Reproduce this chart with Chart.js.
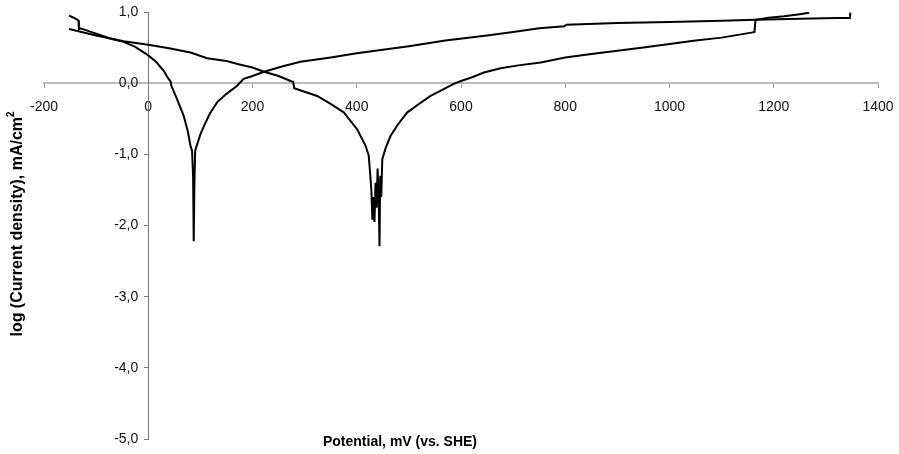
<!DOCTYPE html>
<html>
<head>
<meta charset="utf-8">
<script src="https://cdn.jsdelivr.net/npm/chart.js@4"></script>
<style>
  html, body { margin: 0; padding: 0; background: #fff; }
  #wrap { width: 899px; height: 454px; }
</style>
</head>
<body>
<div id="wrap"><canvas id="c" width="899" height="454"></canvas></div>
<script>
// Potential (mV vs. SHE) and log(current density)
const xTickValues = [-200, 0, 200, 400, 600, 800, 1000, 1200, 1400];
const yTickValues = [-5, -4, -3, -2, -1, 0, 1];

// Curve 1 (corrosion potential near 90 mV)
const curve1X = [-152, -146, -138, -134, -133, -130, -110, -90, -70, -47, -25, 0, 15, 30, 38, 43, 44, 55, 68, 76, 81, 84, 86, 87, 87.5, 88.5, 90, 93, 100, 107, 118, 132, 150, 170, 183, 200, 222, 260, 292, 350, 400, 450, 500, 570, 650, 700, 750, 798, 802, 900, 1000, 1100, 1165, 1250, 1320, 1346, 1347];
const curve1Y = [0.95, 0.93, 0.90, 0.88, 0.76, 0.77, 0.72, 0.67, 0.62, 0.58, 0.51, 0.39, 0.30, 0.17, 0.07, 0.02, -0.03, -0.22, -0.46, -0.68, -0.88, -0.95, -1.30, -1.75, -2.22, -1.45, -0.95, -0.88, -0.72, -0.60, -0.43, -0.27, -0.15, -0.04, 0.06, 0.10, 0.16, 0.24, 0.30, 0.36, 0.42, 0.47, 0.52, 0.60, 0.67, 0.72, 0.77, 0.80, 0.82, 0.845, 0.86, 0.877, 0.89, 0.905, 0.915, 0.915, 0.99];

// Curve 2 (corrosion potential near 440 mV)
const curve2X = [-152, -100, -47, 0, 40, 81, 113, 150, 177, 200, 222, 250, 273, 278, 280, 300, 324, 350, 375, 401, 417, 423, 426, 428, 430, 432, 434, 436, 438, 440, 442, 443.7, 445, 447, 449, 455, 465, 480, 497, 520, 541.6, 565, 586, 600, 620, 644, 676, 710, 753, 800, 850, 900, 950, 1000, 1050, 1100, 1157, 1163, 1165, 1190, 1220, 1250, 1268];
const curve2Y = [0.76, 0.67, 0.59, 0.54, 0.49, 0.43, 0.35, 0.31, 0.26, 0.22, 0.16, 0.10, 0.03, 0.02, -0.07, -0.12, -0.18, -0.29, -0.41, -0.65, -0.88, -1.02, -1.30, -1.50, -1.92, -1.60, -1.95, -1.40, -1.75, -1.20, -1.60, -2.29, -1.30, -1.60, -1.07, -0.92, -0.74, -0.57, -0.41, -0.29, -0.18, -0.09, -0.01, 0.03, 0.08, 0.15, 0.21, 0.25, 0.29, 0.36, 0.41, 0.455, 0.50, 0.55, 0.60, 0.64, 0.71, 0.72, 0.89, 0.92, 0.94, 0.97, 0.99];

const xTitle = 'Potential, mV (vs. SHE)';
const yTitle = 'log (Current density), mA/cm';
const yTitleSup = '2';

const FONT = '"Liberation Sans", Arial, Helvetica, sans-serif';

const toPoints = (xs, ys) => xs.map((x, i) => ({ x: x, y: ys[i] }));

const titlesPlugin = {
  id: 'axisTitles',
  afterDraw(chart) {
    const ctx = chart.ctx;
    ctx.save();
    ctx.fillStyle = '#000';
    // x title
    ctx.font = 'bold 14px ' + FONT;
    ctx.textAlign = 'center';
    ctx.textBaseline = 'middle';
    ctx.fillText(xTitle, 400, 442);
    // y title (rotated)
    ctx.translate(18, 224);
    ctx.rotate(-Math.PI / 2);
    ctx.font = 'bold 16px ' + FONT;
    const w1 = ctx.measureText(yTitle).width;
    ctx.font = 'bold 10px ' + FONT;
    const w2 = ctx.measureText(yTitleSup).width;
    const total = w1 + w2;
    ctx.textAlign = 'left';
    ctx.font = 'bold 16px ' + FONT;
    ctx.fillText(yTitle, -total / 2, 0);
    ctx.font = 'bold 10px ' + FONT;
    ctx.fillText(yTitleSup, -total / 2 + w1, -7);
    ctx.restore();
  }
};

// offset tick labels away from object-positioned axis lines
function shiftLabels(dx, dy) {
  return function (scale) {
    if (scale._shiftPatched || typeof scale._computeLabelItems !== 'function') return;
    const orig = scale._computeLabelItems.bind(scale);
    scale._computeLabelItems = function (ca) {
      const items = orig(ca);
      items.forEach(it => {
        if (it.options && it.options.translation) {
          it.options.translation[0] += dx;
          it.options.translation[1] += dy;
        }
      });
      return items;
    };
    scale._shiftPatched = true;
  };
}

new Chart(document.getElementById('c'), {
  type: 'scatter',
  data: {
    datasets: [
      { data: toPoints(curve1X, curve1Y), showLine: true, borderColor: '#000', borderWidth: 2, pointRadius: 0, tension: 0, fill: false },
      { data: toPoints(curve2X, curve2Y), showLine: true, borderColor: '#000', borderWidth: 2, pointRadius: 0, tension: 0, fill: false }
    ]
  },
  options: {
    responsive: false,
    animation: false,
    layout: { padding: { left: 44, right: 21, top: 12, bottom: 15 } },
    plugins: { legend: { display: false }, tooltip: { enabled: false } },
    scales: {
      x: {
        type: 'linear',
        position: { y: 0 },
        min: -200, max: 1400,
        afterBuildTicks: s => { s.ticks = xTickValues.map(v => ({ value: v })); },
        afterUpdate: shiftLabels(0, 10),
        ticks: { color: '#111', font: { family: FONT, size: 14 }, padding: 2, maxRotation: 0, callback: v => String(v) },
        grid: { drawOnChartArea: false, drawTicks: true, tickLength: 4, color: '#999' },
        border: { display: true, color: '#bbb', width: 2 }
      },
      y: {
        type: 'linear',
        position: { x: 0 },
        min: -5, max: 1,
        afterBuildTicks: s => { s.ticks = yTickValues.map(v => ({ value: v })); },
        afterUpdate: shiftLabels(-10, 0),
        ticks: { color: '#111', font: { family: FONT, size: 14 }, padding: 0, callback: v => v.toFixed(1).replace('.', ',') },
        grid: { drawOnChartArea: false, drawTicks: true, tickLength: 4, color: '#777' },
        border: { display: true, color: '#777', width: 1 }
      }
    }
  },
  plugins: [titlesPlugin]
});
</script>
</body>
</html>
